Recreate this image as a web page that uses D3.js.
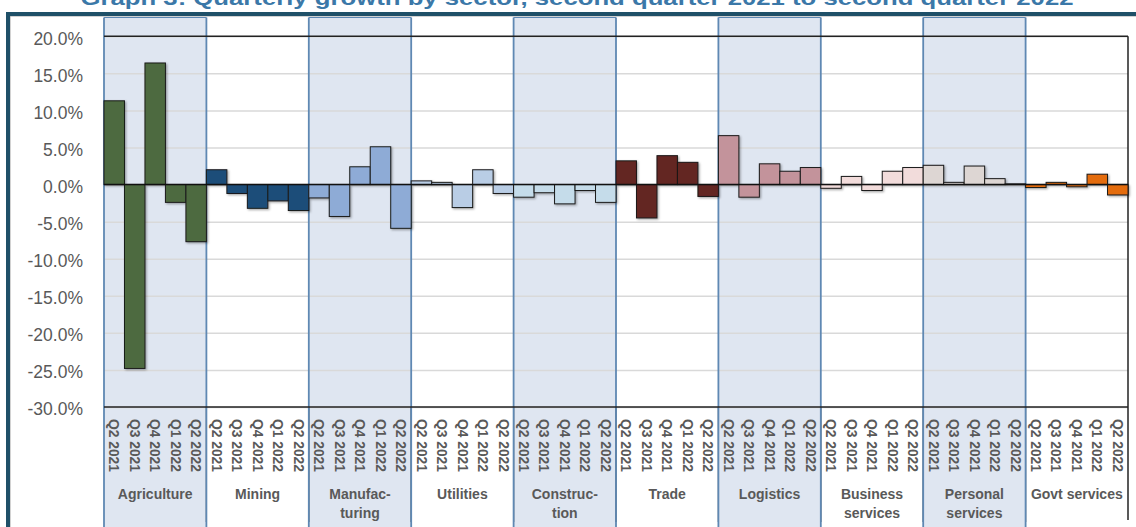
<!DOCTYPE html>
<html>
<head>
<meta charset="utf-8">
<script src="https://cdn.jsdelivr.net/npm/d3@7/dist/d3.min.js"></script>
<style>
  html, body { margin: 0; padding: 0; background: #ffffff; }
  svg { display: block; }
</style>
</head>
<body>
<svg id="chart" width="1136" height="527"></svg>
<script>
// Quarterly growth by sector (%), Q2 2021 to Q2 2022
const sectors = ["Agriculture", "Mining", "Manufacturing", "Utilities", "Construction",
                 "Trade", "Logistics", "Business services", "Personal services", "Govt services"];
const sectorLabels = [["Agriculture"], ["Mining"], ["Manufac-", "turing"], ["Utilities"],
                      ["Construc-", "tion"], ["Trade"], ["Logistics"], ["Business", "services"],
                      ["Personal", "services"], ["Govt services"]];
const quarters = ["Q2 2021", "Q3 2021", "Q4 2021", "Q1 2022", "Q2 2022"];

const agriculture   = [11.3, -24.8, 16.4, -2.4, -7.7];
const mining        = [2.0, -1.2, -3.2, -2.2, -3.5];
const manufacturing = [-1.8, -4.3, 2.4, 5.1, -5.9];
const utilities     = [0.5, 0.3, -3.1, 2.0, -1.2];
const construction  = [-1.7, -1.1, -2.6, -0.8, -2.4];
const trade         = [3.2, -4.5, 3.9, 3.0, -1.6];
const logistics     = [6.6, -1.7, 2.8, 1.8, 2.3];
const business      = [-0.5, 1.1, -0.8, 1.8, 2.3];
const personal      = [2.6, 0.3, 2.5, 0.8, 0.1];
const govt          = [-0.4, 0.3, -0.3, 1.4, -1.4];

const seriesValues = [agriculture, mining, manufacturing, utilities, construction,
                      trade, logistics, business, personal, govt];
const sectorColors = ["#4e6a40", "#1f4e79", "#8eabd6", "#b9cde5", "#c5dcea",
                      "#632523", "#c3939b", "#f2dcdb", "#ddd6d3", "#e46c0a"];
const yTicks = [20, 15, 10, 5, 0, -5, -10, -15, -20, -25, -30];

const svg = d3.select("#chart");
const plotLeft = 104, plotRight = 1128, plotTop = 36.3, plotBottom = 407;

const x = d3.scaleBand().domain(sectors).range([plotLeft, plotRight]).padding(0);
const xq = d3.scaleBand().domain(quarters).range([0, x.bandwidth()]).padding(0);
const y = d3.scaleLinear().domain([-30, 20]).range([plotBottom, plotTop]);

const defs = svg.append("defs");
const shadow = defs.append("filter").attr("id", "barShadow")
  .attr("x", "-20%").attr("y", "-20%").attr("width", "140%").attr("height", "140%");
shadow.append("feDropShadow").attr("dx", 1.2).attr("dy", 1.2)
  .attr("stdDeviation", 0.8).attr("flood-color", "#000").attr("flood-opacity", 0.35);

// Title (top of page)
svg.append("text")
  .attr("x", 577).attr("y", 5)
  .attr("text-anchor", "middle")
  .attr("font-family", "Liberation Sans, Arial, sans-serif")
  .attr("font-weight", "bold")
  .attr("font-size", 20)
  .attr("fill", "#3b78a8")
  .attr("textLength", 993).attr("lengthAdjust", "spacingAndGlyphs")
  .text("Graph 3: Quarterly growth by sector, second quarter 2021 to second quarter 2022");

// Outer frame
svg.append("rect").attr("x", 10).attr("y", 16).attr("width", 1140).attr("height", 520)
  .attr("fill", "none").attr("stroke", "#a6a6a6").attr("stroke-width", 1);
svg.append("rect").attr("x", 6).attr("y", 12).attr("width", 1140).attr("height", 4).attr("fill", "#1f5068");
svg.append("rect").attr("x", 6).attr("y", 12).attr("width", 4).attr("height", 520).attr("fill", "#1f5068");

// Alternating shaded sector bands
const shaded = sectors.filter((d, i) => i % 2 === 0);
svg.append("g").selectAll("rect").data(shaded).join("rect")
  .attr("x", d => x(d)).attr("y", 17.5)
  .attr("width", x.bandwidth()).attr("height", 520)
  .attr("fill", "#dfe6f1");

// Gridlines
svg.append("g")
  .attr("transform", `translate(${plotLeft},0)`)
  .call(d3.axisLeft(y).tickValues(yTicks).tickSize(-(plotRight - plotLeft)).tickFormat(""))
  .call(g => g.select(".domain").remove())
  .call(g => g.selectAll("line").attr("stroke", "#d9d9d9").attr("stroke-width", 1.5));

// Group separators in the category axis area
svg.append("g").selectAll("line").data(sectors.slice(1)).join("line")
  .attr("x1", d => x(d)).attr("x2", d => x(d))
  .attr("y1", plotBottom).attr("y2", 522)
  .attr("stroke", "#222").attr("stroke-width", 1.2);

// Band edges
const bandEdges = [];
shaded.forEach(d => { bandEdges.push(x(d)); bandEdges.push(x(d) + x.bandwidth()); });
svg.append("g").selectAll("line").data(bandEdges).join("line")
  .attr("x1", d => d).attr("x2", d => d)
  .attr("y1", 17.5).attr("y2", 527)
  .attr("stroke", "#5f88b3").attr("stroke-width", 1.8);
svg.append("g").selectAll("line").data(shaded).join("line")
  .attr("x1", d => x(d)).attr("x2", d => x(d) + x.bandwidth())
  .attr("y1", 17.5).attr("y2", 17.5)
  .attr("stroke", "#5f88b3").attr("stroke-width", 1);

// Plot border (top, right, bottom)
svg.append("line").attr("x1", plotLeft).attr("x2", plotRight).attr("y1", y(20)).attr("y2", y(20))
  .attr("stroke", "#222").attr("stroke-width", 1.5);
svg.append("line").attr("x1", plotLeft).attr("x2", plotRight).attr("y1", y(-30)).attr("y2", y(-30))
  .attr("stroke", "#222").attr("stroke-width", 1.5);
svg.append("line").attr("x1", plotRight).attr("x2", plotRight).attr("y1", y(20)).attr("y2", 520)
  .attr("stroke", "#222").attr("stroke-width", 1.5);

// Bars
const barData = [];
sectors.forEach((s, i) => {
  quarters.forEach((q, j) => {
    barData.push({ sector: s, quarter: q, value: seriesValues[i][j], color: sectorColors[i] });
  });
});
svg.append("g").attr("filter", "url(#barShadow)")
  .selectAll("rect").data(barData).join("rect")
  .attr("x", d => x(d.sector) + xq(d.quarter))
  .attr("y", d => y(Math.max(0, d.value)))
  .attr("width", xq.bandwidth())
  .attr("height", d => Math.abs(y(d.value) - y(0)))
  .attr("fill", d => d.color)
  .attr("stroke", "#1a1a1a").attr("stroke-width", 1);

// Zero line
svg.append("line").attr("x1", plotLeft).attr("x2", plotRight).attr("y1", y(0)).attr("y2", y(0))
  .attr("stroke", "#111").attr("stroke-width", 1.5);

// Y axis labels (plain hyphen for negatives)
const pct = d => d3.format(".1f")(d).replace("\u2212", "-") + "%";
svg.append("g")
  .attr("transform", `translate(83,0)`)
  .call(d3.axisLeft(y).tickValues(yTicks).tickSize(0).tickPadding(0).tickFormat(pct))
  .call(g => g.select(".domain").remove())
  .call(g => g.selectAll("text")
    .attr("font-family", "Liberation Sans, Arial, sans-serif")
    .attr("font-size", 17.5)
    .attr("fill", "#595959")
    .attr("dy", "0.45em"));

// Quarter labels (vertical)
svg.append("g").selectAll("text").data(barData).join("text")
  .attr("transform", d => `translate(${x(d.sector) + xq(d.quarter) + xq.bandwidth() / 2},419) rotate(90)`)
  .attr("dy", "0.35em")
  .attr("text-anchor", "start")
  .attr("font-family", "Liberation Sans, Arial, sans-serif")
  .attr("font-weight", "bold")
  .attr("font-size", 13.8)
  .attr("fill", "#595959")
  .text(d => d.quarter);

// Sector labels
const sl = svg.append("g").selectAll("text").data(sectors).join("text")
  .attr("x", d => x(d) + x.bandwidth() / 2)
  .attr("y", 499)
  .attr("text-anchor", "middle")
  .attr("font-family", "Liberation Sans, Arial, sans-serif")
  .attr("font-weight", "bold")
  .attr("font-size", 14)
  .attr("fill", "#595959");
sl.each(function(d, i) {
  const t = d3.select(this);
  sectorLabels[i].forEach((line, k) => {
    t.append("tspan").attr("x", x(d) + x.bandwidth() / 2).attr("dy", k === 0 ? 0 : 18.5).text(line);
  });
});
</script>
</body>
</html>
